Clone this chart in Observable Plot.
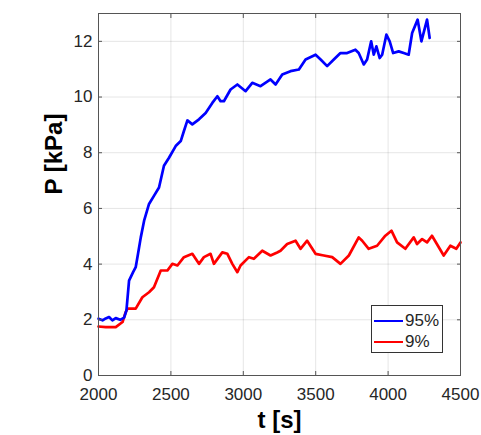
<!DOCTYPE html>
<html>
<head>
<meta charset="utf-8">
<script src="https://cdn.jsdelivr.net/npm/d3@7"></script>
<script src="https://cdn.jsdelivr.net/npm/@observablehq/plot@0.6"></script>
<style>
  html, body { margin: 0; padding: 0; background: #fff; }
  #wrap { position: relative; width: 481px; height: 435px; font-family: "Liberation Sans", Arial, sans-serif; }
  #legend { position: absolute; left: 371px; top: 305px; width: 70px; height: 46px; border: 1px solid #333; background: #fff; }
  .lg-line { position: absolute; left: 2px; width: 29px; height: 2px; }
  .lg-text { position: absolute; left: 33px; font-size: 17px; line-height: 17px; color: #262626; }
</style>
</head>
<body>
<div id="wrap"></div>
<script>
const xTicks = [2000, 2500, 3000, 3500, 4000, 4500];
const yTicks = [0, 2, 4, 6, 8, 10, 12];
const seriesNames = ["95%", "9%"];
const seriesColors = ["#0000ff", "#ff0000"];

const blueT = [2000,2028,2050,2073,2096,2119,2150,2177,2193,2211,2239,2257,2273,2292,2315,2349,2383,2418,2452,2487,2533,2568,2590,2614,2648,2694,2740,2786,2821,2843,2866,2912,2959,3016,3062,3119,3188,3223,3269,3326,3384,3430,3499,3534,3579,3625,3671,3717,3774,3797,3832,3855,3883,3901,3919,3942,3959,3988,4011,4035,4073,4108,4142,4166,4204,4230,4269,4287];
const blueP = [2.04,1.98,2.05,2.10,1.98,2.06,2.00,2.08,2.34,3.41,3.71,3.89,4.37,4.96,5.56,6.16,6.45,6.75,7.53,7.82,8.24,8.42,8.78,9.16,9.02,9.20,9.43,9.79,10.03,9.85,9.85,10.27,10.45,10.21,10.51,10.39,10.63,10.45,10.81,10.93,10.99,11.35,11.52,11.35,11.11,11.35,11.58,11.58,11.70,11.58,11.17,11.35,12.00,11.52,11.82,11.40,11.52,12.24,12.00,11.58,11.64,11.58,11.52,12.30,12.78,12.00,12.78,12.12];

const redT = [2000,2050,2119,2166,2188,2200,2257,2303,2349,2383,2430,2476,2510,2545,2590,2648,2694,2728,2774,2797,2855,2890,2924,2959,2981,3039,3073,3131,3188,3234,3257,3303,3361,3395,3441,3499,3556,3614,3671,3729,3797,3821,3866,3924,3981,4023,4062,4119,4177,4200,4235,4269,4303,4384,4430,4471,4500];
const redP = [1.76,1.74,1.74,1.92,2.28,2.40,2.40,2.81,2.99,3.17,3.77,3.77,4.01,3.95,4.25,4.37,4.01,4.25,4.37,4.01,4.42,4.37,4.01,3.71,3.95,4.25,4.19,4.48,4.31,4.42,4.48,4.72,4.84,4.55,4.84,4.37,4.31,4.25,4.01,4.31,4.96,4.84,4.55,4.66,5.02,5.20,4.78,4.55,4.96,4.72,4.90,4.78,5.02,4.31,4.66,4.55,4.78];

const blue = blueT.map((t, i) => ({t, p: blueP[i]}));
const red = redT.map((t, i) => ({t, p: redP[i]}));

const axisColor = "#262626";
const chart = Plot.plot({
  width: 481,
  height: 435,
  marginLeft: 98,
  marginRight: 21,
  marginTop: 13,
  marginBottom: 60,
  style: { fontFamily: '"Liberation Sans", Arial, sans-serif', color: axisColor, background: "#fff", overflow: "visible" },
  x: { domain: [2000, 4500] },
  y: { domain: [0, 13] },
  marks: [
    Plot.gridX(xTicks, { stroke: "#000", strokeOpacity: 0.1 }),
    Plot.gridY(yTicks, { stroke: "#000", strokeOpacity: 0.1 }),
    Plot.line(red, { x: "t", y: "p", stroke: seriesColors[1], strokeWidth: 2.7 }),
    Plot.line(blue, { x: "t", y: "p", stroke: seriesColors[0], strokeWidth: 2.7 }),
    Plot.frame({ stroke: "#555", strokeWidth: 1 }),
    Plot.axisX(xTicks, { anchor: "bottom", tickSize: -4, tickPadding: 16.7, tickFormat: d => String(d), fontSize: 17, label: null, stroke: "#555", fill: axisColor }),
    Plot.axisX(xTicks, { anchor: "top", tickSize: -4, tickFormat: () => "", label: null, stroke: "#555" }),
    Plot.axisY(yTicks, { anchor: "left", tickSize: -4, tickPadding: 10, tickFormat: d => String(d), fontSize: 17, label: null, stroke: "#555", fill: axisColor }),
    Plot.axisY(yTicks, { anchor: "right", tickSize: -4, tickFormat: () => "", label: null, stroke: "#555" }),
    Plot.text(["t [s]"], { frameAnchor: "bottom", dy: 52, fontSize: 24, fontWeight: "bold", fill: "#000", lineAnchor: "bottom" }),
    Plot.text(["P [kPa]"], { frameAnchor: "left", dx: -37, rotate: -90, fontSize: 24, fontWeight: "bold", fill: "#000", lineAnchor: "bottom" })
  ]
});

const wrap = document.getElementById("wrap");
wrap.appendChild(chart);

const legend = document.createElement("div");
legend.id = "legend";
seriesNames.forEach((name, i) => {
  const ln = document.createElement("div");
  ln.className = "lg-line";
  ln.style.top = (14 + i * 21) + "px";
  ln.style.background = seriesColors[i];
  legend.appendChild(ln);
  const tx = document.createElement("div");
  tx.className = "lg-text";
  tx.style.top = (6 + i * 21) + "px";
  tx.textContent = name;
  legend.appendChild(tx);
});
wrap.appendChild(legend);
</script>
</body>
</html>
